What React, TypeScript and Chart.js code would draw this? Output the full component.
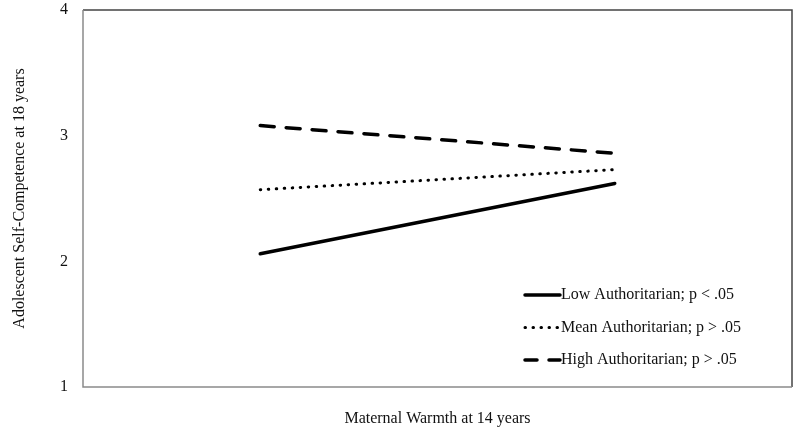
import React, { useEffect, useRef } from "react";
import { Chart, registerables } from "chart.js";

Chart.register(...registerables);

const xPositions = [1, 3];
const lowAuth = [2.06, 2.62];
const meanAuth = [2.57, 2.73];
const highAuth = [3.08, 2.86];
const seriesLabels = [
  "Low Authoritarian; p < .05",
  "Mean Authoritarian; p > .05",
  "High Authoritarian; p > .05",
];
const yTicks = [1, 2, 3, 4];

const FONT = "'Liberation Serif', 'Times New Roman', serif";

const borderPlugin = {
  id: "frame",
  afterDraw(chart: any) {
    const { ctx, chartArea: a } = chart;
    ctx.save();
    ctx.lineWidth = 1.5;
    ctx.strokeStyle = "#444444";
    ctx.beginPath();
    ctx.moveTo(a.left, a.top);
    ctx.lineTo(a.right, a.top);
    ctx.lineTo(a.right, a.bottom);
    ctx.stroke();
    ctx.strokeStyle = "#8a8a8a";
    ctx.beginPath();
    ctx.moveTo(a.left, a.top);
    ctx.lineTo(a.left, a.bottom);
    ctx.lineTo(a.right, a.bottom);
    ctx.stroke();
    ctx.restore();
  },
};

const legendPlugin = {
  id: "innerLegend",
  afterDraw(chart: any) {
    const { ctx, chartArea: a } = chart;
    const x0 = a.right - 267;
    const x1 = x0 + 35;
    const y0 = a.bottom - 92;
    const gap = 32.5;
    ctx.save();
    chart.data.datasets.forEach((ds: any, i: number) => {
      const y = y0 + i * gap;
      ctx.beginPath();
      ctx.lineWidth = ds.borderWidth;
      ctx.strokeStyle = ds.borderColor;
      ctx.lineCap = ds.borderCapStyle || "butt";
      ctx.setLineDash(ds.legendDash || ds.borderDash || []);
      ctx.moveTo(x0, y);
      ctx.lineTo(x1, y);
      ctx.stroke();
      ctx.setLineDash([]);
      ctx.fillStyle = "#111111";
      ctx.font = `16px ${FONT}`;
      ctx.textBaseline = "middle";
      ctx.textAlign = "left";
      ctx.fillText(ds.label, x1 + 1, y);
    });
    ctx.restore();
  },
};

export default function App() {
  const ref = useRef<HTMLCanvasElement | null>(null);

  useEffect(() => {
    if (!ref.current) return;
    const mk = (vals: number[]) => vals.map((v, i) => ({ x: xPositions[i], y: v }));
    const chart = new Chart(ref.current, {
      type: "line",
      data: {
        datasets: [
          {
            label: seriesLabels[0],
            data: mk(lowAuth),
            borderColor: "#000000",
            borderWidth: 3.5,
            borderCapStyle: "round",
            pointRadius: 0,
            fill: false,
          },
          {
            label: seriesLabels[1],
            data: mk(meanAuth),
            borderColor: "#000000",
            borderWidth: 3,
            borderDash: [0.5, 7.5],
            borderCapStyle: "round",
            pointRadius: 0,
            fill: false,
          },
          {
            label: seriesLabels[2],
            data: mk(highAuth),
            borderColor: "#000000",
            borderWidth: 3.5,
            borderDash: [14, 12],
            legendDash: [12, 12],
            borderCapStyle: "round",
            pointRadius: 0,
            fill: false,
          },
        ] as any,
      },
      options: {
        animation: false,
        responsive: false,
        maintainAspectRatio: false,
        layout: { padding: { top: 10, right: 8, left: 0, bottom: 0 } },
        plugins: {
          legend: { display: false },
          tooltip: { enabled: false },
        },
        scales: {
          x: {
            type: "linear",
            min: 0,
            max: 4,
            grid: { display: false, drawTicks: false },
            border: { display: false },
            ticks: { display: false },
            title: {
              display: true,
              text: "Maternal Warmth at 14 years",
              color: "#111111",
              font: { family: FONT, size: 16 },
              padding: { top: 0, bottom: 6 },
            },
            afterFit: (s: any) => {
              s.height = 47;
            },
          },
          y: {
            type: "linear",
            min: 1,
            max: 4,
            afterBuildTicks: (s: any) => {
              s.ticks = yTicks.map((v) => ({ value: v }));
            },
            grid: { display: false, drawTicks: false },
            border: { display: false },
            ticks: {
              color: "#111111",
              font: { family: FONT, size: 16 },
              padding: 15,
            },
            title: {
              display: true,
              text: "Adolescent Self-Competence at 18 years",
              color: "#111111",
              font: { family: FONT, size: 16 },
              padding: { top: 10, bottom: 0 },
            },
            afterFit: (s: any) => {
              s.width = 83;
              s.paddingTop = 0;
              s.paddingBottom = 0;
            },
          },
        },
      },
      plugins: [borderPlugin, legendPlugin],
    });
    return () => chart.destroy();
  }, []);

  return (
    <div style={{ position: "fixed", left: 0, top: 0, width: 800, height: 434, background: "#ffffff" }}>
      <canvas ref={ref} width={800} height={434} style={{ display: "block" }} />
    </div>
  );
}
